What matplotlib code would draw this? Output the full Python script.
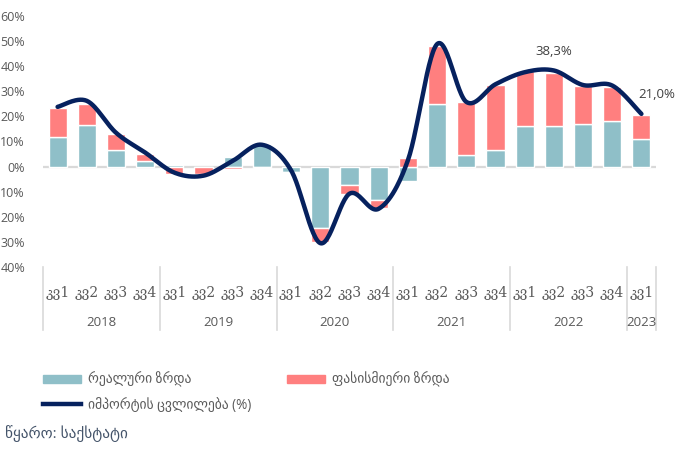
import numpy as np
import matplotlib
matplotlib.use("Agg")
import matplotlib.pyplot as plt
from matplotlib.patches import Patch
from matplotlib.lines import Line2D
import matplotlib.transforms as mtransforms

# ---- data ----
quarters = ["კვ1", "კვ2", "კვ3", "კვ4"] * 5 + ["კვ1"]
years = ["2018", "2019", "2020", "2021", "2022", "2023"]
year_counts = [4, 4, 4, 4, 4, 1]
real_growth = [11.7, 16.4, 6.7, 2.2, 0.8, -0.2, 4.0, 9.0, -2.0, -24.3, -7.4,
               -13.2, -5.6, 25.1, 4.6, 6.7, 16.3, 16.0, 17.1, 18.1, 11.0]
price_growth = [11.7, 8.7, 6.1, 2.9, -3.0, -2.6, -1.0, -0.7, -0.3, -5.7, -3.7,
                -3.1, 3.5, 22.9, 21.2, 25.8, 21.9, 21.1, 15.0, 13.5, 9.7]
import_change = [23.8, 26.2, 13.5, 5.6, -2.4, -3.6, 2.3, 8.7, -1.5, -30.5, -10.8,
                 -16.8, 2.5, 48.8, 25.8, 32.8, 37.6, 38.3, 32.5, 32.3, 21.0]
labelled = {17: "38,3%", 20: "21,0%"}
yticks = [-40, -30, -20, -10, 0, 10, 20, 30, 40, 50, 60]
ytick_labels = ["40%", "30%", "20%", "10%", "0%", "10%", "20%", "30%", "40%", "50%", "60%"]
legend_labels = ["რეალური ზრდა", "ფასისმიერი ზრდა", "იმპორტის ცვლილება (%)"]
source_text = "წყარო: საქსტატი"

TEAL = "#8FBFC8"
PINK = "#FF7F7F"
NAVY = "#06215E"
GRAY = "#595959"
LINEGRAY = "#D9D9D9"
SANS = ["Open Sans", "DejaVu Sans"]

fig = plt.figure(figsize=(6.79, 4.49), dpi=100)
ax = fig.add_axes([43/679, 1-267/449, (656-43)/679, (267-16)/449])

n = len(real_growth)
x = np.arange(n)
real = np.array(real_growth)
price = np.array(price_growth)
bottom_price = np.where(np.sign(real) == np.sign(price), real, 0.0)

ax.bar(x, real, width=0.62, color=TEAL, edgecolor="white", linewidth=1.0, zorder=2)
ax.bar(x, price, width=0.62, bottom=bottom_price, color=PINK, edgecolor="white",
       linewidth=1.0, zorder=2)

# smooth line (Catmull-Rom through the data points, like Excel smoothing)
y = np.array(import_change, dtype=float)
xs, ys = [], []
for i in range(n - 1):
    p0 = y[i-1] if i > 0 else y[i]
    p1, p2 = y[i], y[i+1]
    p3 = y[i+2] if i + 2 < n else y[i+1]
    x0 = x[i-1] if i > 0 else x[i]
    x3 = x[i+2] if i + 2 < n else x[i+1]
    t = np.linspace(0, 1, 30)
    c1y = p1 + (p2 - p0) / 6
    c2y = p2 - (p3 - p1) / 6
    c1x = x[i] + (x[i+1] - x0) / 6
    c2x = x[i+1] - (x3 - x[i]) / 6
    bx = (1-t)**3*x[i] + 3*(1-t)**2*t*c1x + 3*(1-t)*t**2*c2x + t**3*x[i+1]
    by = (1-t)**3*p1 + 3*(1-t)**2*t*c1y + 3*(1-t)*t**2*c2y + t**3*p2
    xs.extend(bx); ys.extend(by)
ax.plot(xs, ys, color=NAVY, linewidth=3.2, solid_capstyle="round", zorder=4)

for idx, txt in labelled.items():
    dx = 0 if idx != n - 1 else 11
    ax.annotate(txt, (x[idx], import_change[idx]), xytext=(dx, 9),
                textcoords="offset points", ha="center", va="bottom",
                fontsize=9.5, color="#404040", family=SANS)

ax.axhline(0, color=LINEGRAY, linewidth=1.6, zorder=1)
ax.set_xlim(-0.5, n - 0.5)
ax.set_ylim(-40, 60)
for s in ax.spines.values():
    s.set_visible(False)
ax.set_yticks(yticks)
ax.set_yticklabels(ytick_labels, fontsize=9, color=GRAY, family=SANS)
ax.tick_params(axis="y", length=0, pad=13)
ax.set_xticks([])

# category labels
trans = mtransforms.blended_transform_factory(ax.transData, fig.transFigure)
for i, q in enumerate(quarters):
    ax.text(i, 1 - 293/449, q, transform=trans, ha="center", va="center",
            fontsize=10, color=GRAY, family=["DejaVu Serif", "DejaVu Sans"])
start = 0
bounds = [-0.5]
for yr, cnt in zip(years, year_counts):
    ax.text(start + (cnt - 1) / 2, 1 - 322/449, yr, transform=trans, ha="center",
            va="center", fontsize=9.5, color=GRAY, family=SANS)
    start += cnt
    bounds.append(start - 0.5)
for b in bounds:
    ax.add_line(Line2D([b, b], [1 - 267/449, 1 - 330/449], transform=trans,
                       color=LINEGRAY, linewidth=1.2, clip_on=False))

# legend
handles = [Patch(facecolor=TEAL, edgecolor=TEAL),
           Line2D([0], [0], color=NAVY, linewidth=3.2),
           Patch(facecolor=PINK, edgecolor=PINK)]
labels = [legend_labels[0], legend_labels[2], legend_labels[1]]
leg = fig.legend(handles, labels, ncol=2, loc="upper left",
                 bbox_to_anchor=(31/679, 1 - 360/449), frameon=False,
                 prop={"family": SANS, "size": 9.8}, handlelength=2.8,
                 handleheight=0.6, columnspacing=2.6, labelspacing=0.75,
                 handletextpad=0.5)
for t in leg.get_texts():
    t.set_color(GRAY)

fig.text(5/679, 1 - 434/449, source_text, fontsize=11, color="#44546A",
         family=SANS, va="center", ha="left")

fig.savefig("out.png", dpi=100)
